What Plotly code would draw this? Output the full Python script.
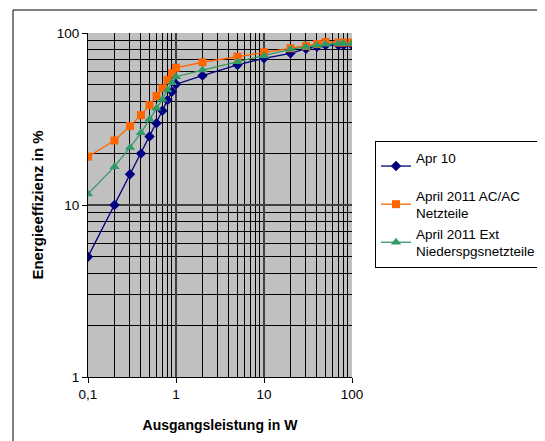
import plotly.graph_objects as go

leistung = [0.1, 0.2, 0.3, 0.4, 0.5, 0.6, 0.7, 0.8, 0.9, 1, 2, 5, 10, 20, 30, 40, 50, 70, 80, 100]
apr10 = [5.0, 10.0, 15.1, 19.9, 25.0, 29.9, 35.3, 40.7, 45.6, 50.4, 56.5, 65.2, 71.3, 76.2, 81.0, 83.1, 85.0, 85.0, 85.0, 85.0]
acac = [19.1, 23.7, 28.8, 33.3, 38.1, 43.0, 47.7, 53.4, 58.4, 62.8, 67.6, 72.8, 77.3, 81.5, 84.0, 86.3, 88.7, 88.0, 88.0, 88.0]
ext = [11.6, 16.7, 21.6, 26.3, 31.5, 36.5, 41.1, 46.7, 51.4, 55.7, 60.9, 68.1, 73.5, 80.4, 83.0, 85.0, 86.0, 87.0, 87.0, 87.0]

names = ["Apr 10<br> ", "April 2011 AC/AC<br>Netzteile", "April 2011 Ext<br>Niederspgsnetzteile"]
colors = ["#000080", "#FF6600", "#339966"]
symbols = ["diamond", "square", "triangle-up"]
msizes = [8, 8, 9]

x_tickvals = [0.1, 1, 10, 100]
x_ticktext = ["0,1", "1", "10", "100"]
y_tickvals = [1, 10, 100]
y_ticktext = ["1", "10", "100"]

minor_x = [m * 10.0 ** d for d in (-1, 0, 1) for m in range(2, 10)]
minor_y = [m * 10.0 ** d for d in (0, 1) for m in range(2, 10)]

fig = go.Figure()
for i, (ys, n, c, s, ms) in enumerate(zip([apr10, acac, ext], names, colors, symbols, msizes)):
    fig.add_trace(go.Scatter(
        x=leistung, y=ys, name=n, mode="lines+markers", legendgroup=f"g{i}",
        line=dict(color=c, width=1.3),
        marker=dict(symbol=s, color=c, size=ms, line=dict(width=0)),
    ))

# page body has an 8px margin; compensate
OFF = 8
W, H = 545 - OFF, 441 - OFF
L, T = 88 - OFF, 33 - OFF
R = W - (352 - OFF)
B = H - (377 - OFF)
pw, ph = W - L - R, H - T - B

fig.update_layout(
    width=W, height=H,
    margin=dict(l=L, r=R, t=T, b=B, autoexpand=False),
    paper_bgcolor="white",
    plot_bgcolor="#C0C0C0",
    font=dict(family="Liberation Sans, Arial", size=12, color="black"),
    showlegend=True,
    legend=dict(
        x=(375 - OFF - L) / pw, y=1 - (141 - OFF - T) / ph, xanchor="left", yanchor="top",
        bordercolor="black", borderwidth=1, bgcolor="white",
        font=dict(size=13.5), tracegroupgap=0, traceorder="grouped",
        itemwidth=30,
    ),
    shapes=[dict(type="rect", xref="paper", yref="paper",
                 x0=(13 - OFF - L) / pw, x1=(W + 20 - L) / pw,
                 y0=1 + (T - (10 - OFF)) / ph, y1=-(H + 20 - T - ph) / ph,
                 line=dict(color="black", width=1), layer="below")],
)
fig.update_xaxes(
    type="log", range=[-1, 2],
    tickvals=x_tickvals, ticktext=x_ticktext,
    ticks="outside", ticklen=5, tickcolor="black",
    showgrid=True, gridcolor="#404040", gridwidth=2,
    minor=dict(tickvals=minor_x, showgrid=True, gridcolor="black", gridwidth=1, ticks=""),
    showline=True, linecolor="black", linewidth=1,
    zeroline=False,
    tickfont=dict(size=13.5),
    title=dict(text="<b>Ausgangsleistung in W</b>", font=dict(size=14), standoff=18),
)
fig.update_yaxes(
    type="log", range=[0, 2],
    tickvals=y_tickvals, ticktext=y_ticktext,
    ticks="outside", ticklen=5, tickcolor="black",
    showgrid=True, gridcolor="#404040", gridwidth=2,
    minor=dict(tickvals=minor_y, showgrid=True, gridcolor="black", gridwidth=1, ticks=""),
    showline=True, linecolor="black", linewidth=1,
    zeroline=False,
    tickfont=dict(size=13.5),
    title=dict(text="<b>Energieeffizienz in %</b>", font=dict(size=15), standoff=9),
)

fig.write_html("out.html")
